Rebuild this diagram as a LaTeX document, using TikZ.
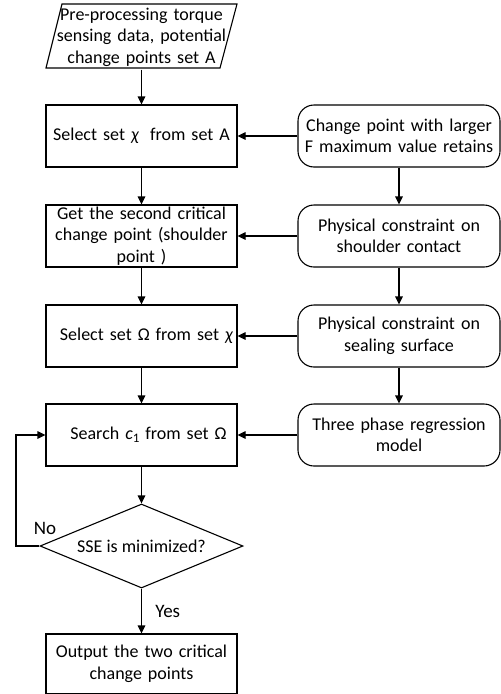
\documentclass[tikz,border=0pt]{standalone}
\usepackage{fontspec}
\setmainfont{Carlito}
\usetikzlibrary{shapes.geometric,arrows.meta}
\tikzset{
  base/.style={font=\fontsize{18}{21.5}\selectfont, align=center},
  procbox/.style={base, draw, rectangle, minimum width=191pt, minimum height=62pt, text width=186pt, inner sep=0pt},
  rulebox/.style={base, draw, rectangle, rounded corners=16pt, minimum width=202pt, minimum height=62pt, text width=198pt, inner sep=0pt},
  decision/.style={base, draw, diamond, minimum width=203pt, minimum height=84pt, inner sep=0pt, shape aspect=2.42},
  flow/.style={-{Triangle[length=8pt,width=7.5pt]}},
  tag/.style={font=\fontsize{19}{21}\selectfont}
}
\newcommand{\symit}[1]{\textit{#1}}
\begin{document}
\begin{tikzpicture}[x=1pt, y=-1pt, line width=1.1pt]
\useasboundingbox (0,0) rectangle (501,694);

% input parallelogram
\node[base, minimum height=64pt, inner sep=0pt, text width=175pt] (pre) at (141.5,37)
  {Pre-processing torque\\ sensing data, potential\\ change points set A};
\draw (46,68) -- (62,4) -- (237,4) -- (220,68) -- cycle;

% main column
\node[procbox] (sel1) at (141.5,136) {Select set \symit{χ}\; from set A};
\node[procbox] (cp2)  at (141.5,236) {Get the second critical\\ change point (shoulder\\ point )};
\node[procbox] (sel2) at (141.5,336) {\hspace*{10pt}\mbox{Select set Ω from set \symit{χ}}};
\node[procbox] (srch) at (141.5,435) {\hspace*{14pt}\mbox{Search \symit{c}\raisebox{-0.3ex}{\fontsize{13}{13}\selectfont 1} from set Ω}};
\node[decision] (sse) at (141.5,546) {SSE is minimized?};
\node[procbox, minimum height=60pt] (out) at (141.5,664) {Output the two critical\\ change points};

% constraint column
\node[rulebox] (r1) at (399,136) {Change point with larger\\ F maximum value retains};
\node[rulebox] (r2) at (399,236) {Physical constraint on\\ shoulder contact};
\node[rulebox] (r3) at (399,336) {Physical constraint on\\ sealing surface};
\node[rulebox] (r4) at (399,435) {Three phase regression\\ model};

% vertical flow
\draw[flow] (pre.south) -- (sel1);
\draw[flow] (sel1) -- (cp2);
\draw[flow] (cp2) -- (sel2);
\draw[flow] (sel2) -- (srch);
\draw[flow] (srch) -- (sse.north);
\draw[flow] (sse.south) -- node[tag, right=10pt] {Yes} (out);

\draw[flow] (r1) -- (r2);
\draw[flow] (r2) -- (r3);
\draw[flow] (r3) -- (r4);

% constraints feeding the main column
\draw[flow] (r1) -- (sel1);
\draw[flow] (r2) -- (cp2);
\draw[flow] (r3) -- (sel2);
\draw[flow] (r4) -- (srch);

% retry loop
\coordinate (lp) at (16,546);
\draw[flow] (sse.west) -- (lp) |- (srch.west);
\node[tag] (no) at (45,528) {No};
\end{tikzpicture}
\end{document}
